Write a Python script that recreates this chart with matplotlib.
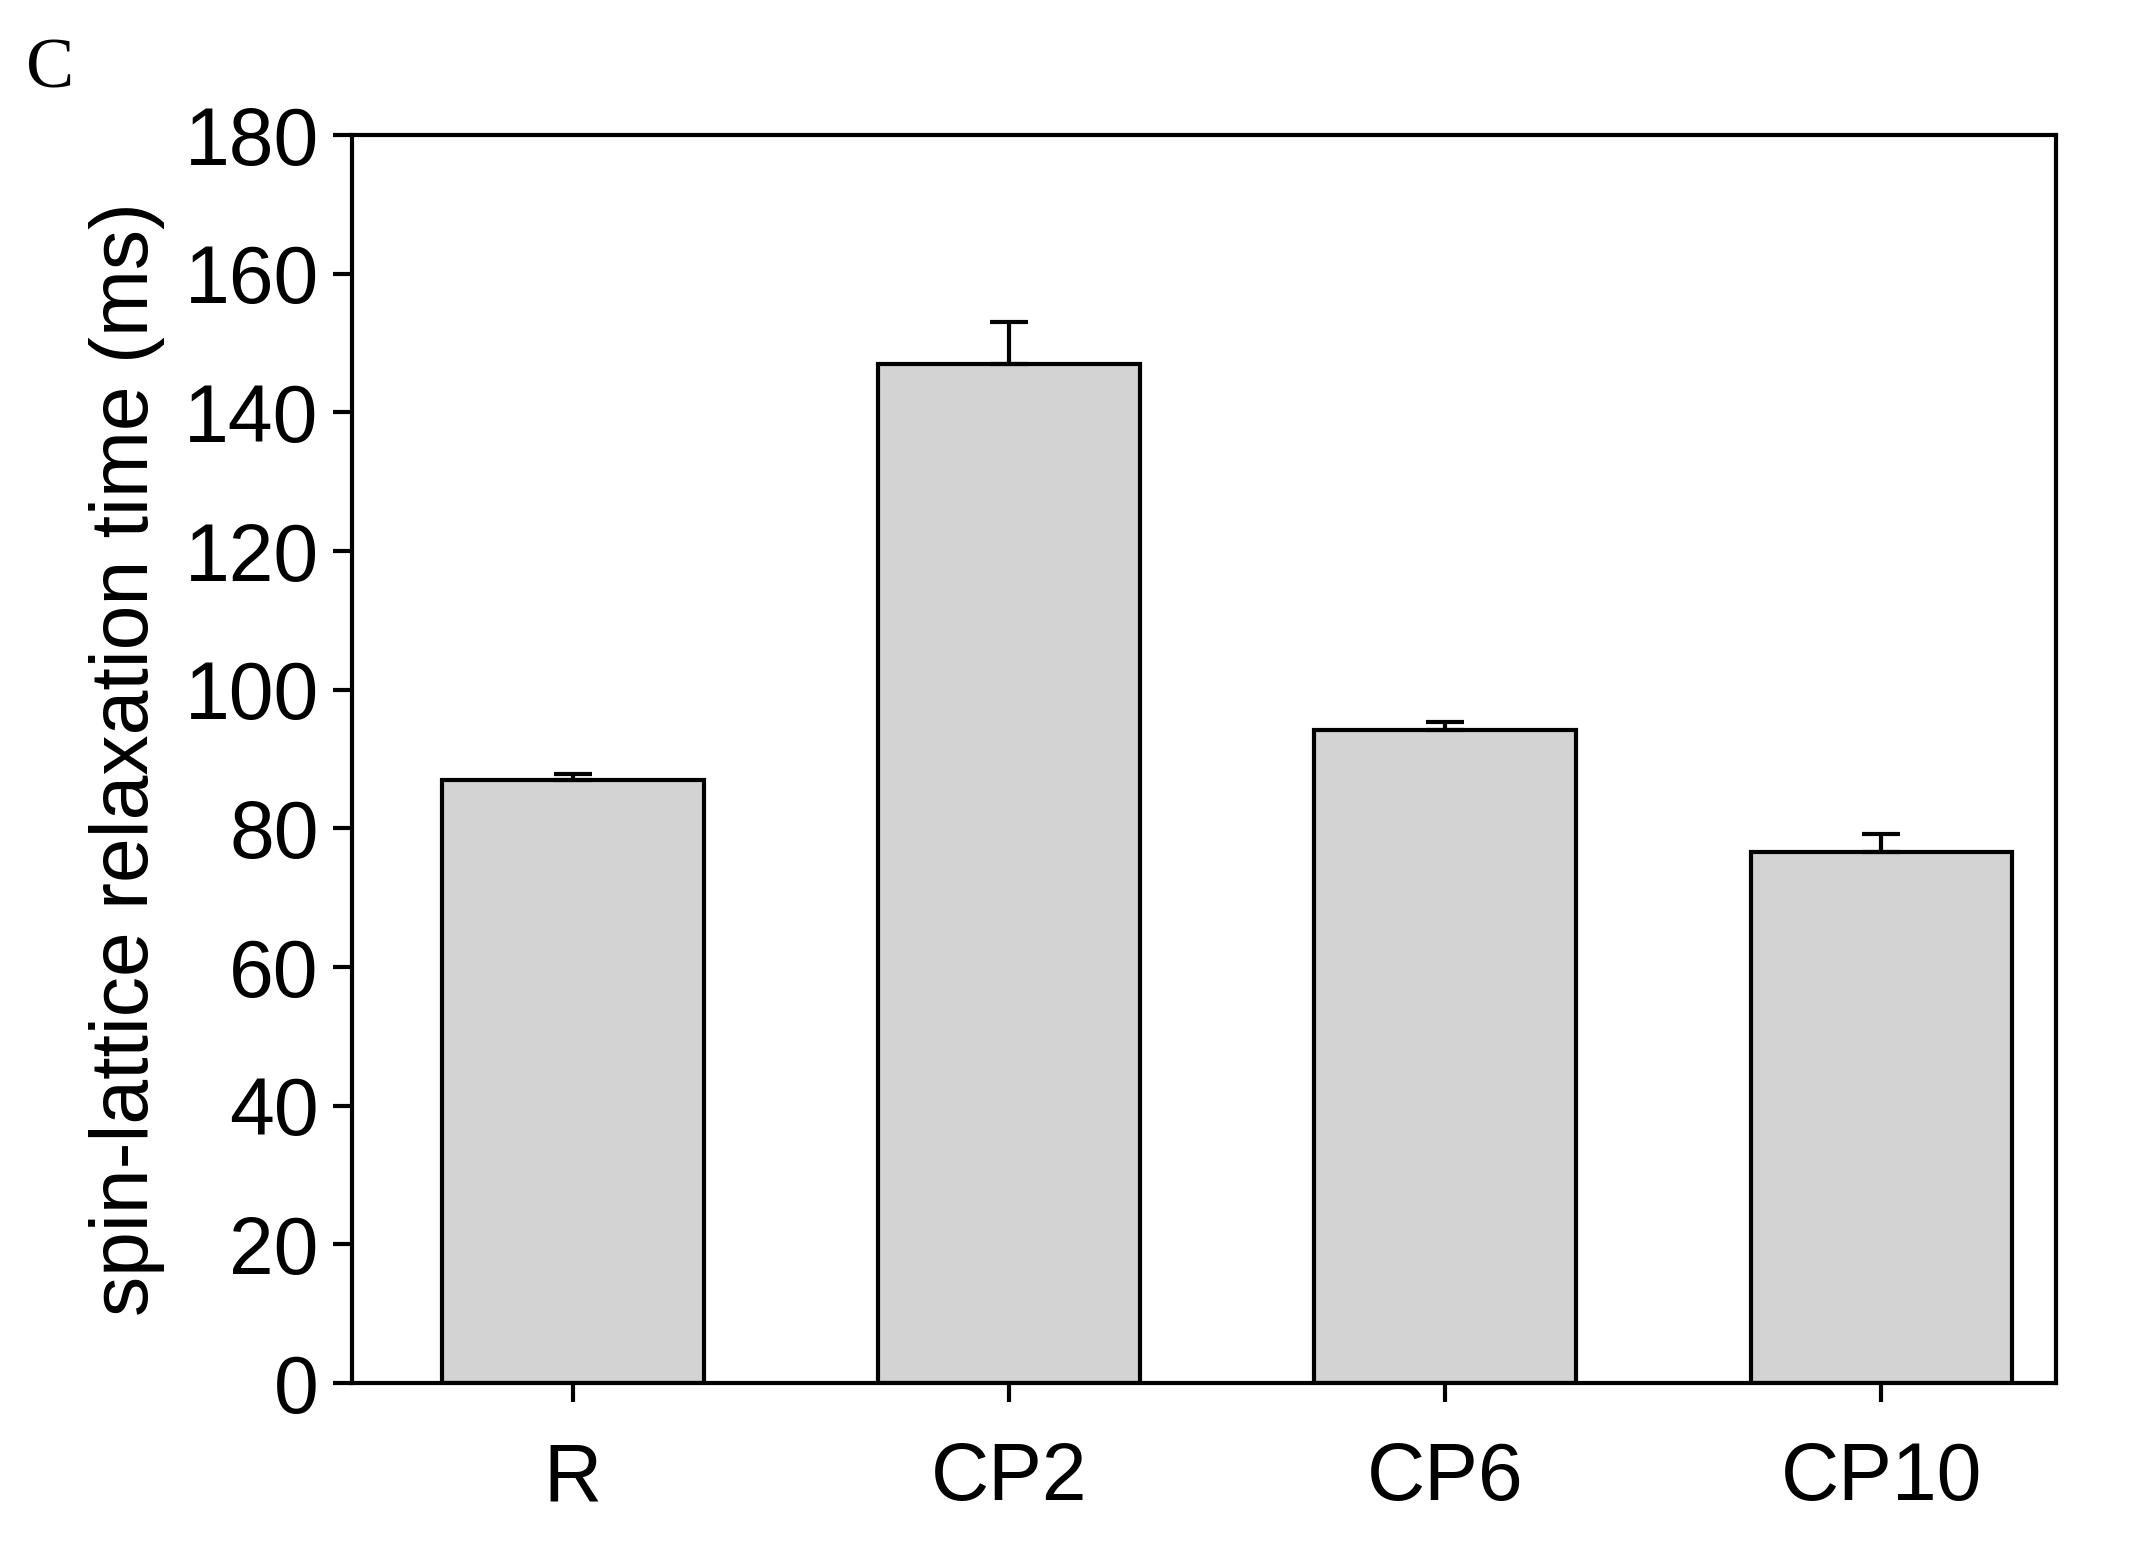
import matplotlib
matplotlib.use("Agg")
import matplotlib.pyplot as plt

categories = ["R", "CP2", "CP6", "CP10"]
values = [87.0, 147.0, 94.2, 76.6]
errors = [0.8, 6.0, 1.1, 2.6]

plt.rcParams['font.family'] = ['Liberation Sans', 'DejaVu Sans']
fig = plt.figure(figsize=(21.38, 15.49), dpi=100)
ax = fig.add_axes([352/2138, 1-1383/1549, (2056-352)/2138, (1383-135)/1549])
x = list(range(len(categories)))
ax.bar(x, values, width=0.6, color="#d3d3d3", edgecolor="black", linewidth=3, zorder=2)
ax.errorbar(x, values, yerr=[[0]*len(errors), errors], fmt="none", ecolor="black",
            elinewidth=3, capsize=14, capthick=3, zorder=3)
ax.set_xlim(-0.506, 3.4)
ax.set_ylim(0, 180)
ax.set_yticks(range(0, 181, 20))
ax.set_xticks(x)
ax.set_xticklabels(categories)
ax.tick_params(axis='both', direction='out', length=14, width=3, labelsize=58)
ax.tick_params(axis='x', pad=28)
ax.tick_params(axis='y', pad=10)
for s in ax.spines.values():
    s.set_linewidth(3)
ax.set_ylabel("spin-lattice relaxation time (ms)", fontsize=58, labelpad=14)
fig.text(26/2138, 1-88/1549, "C", fontsize=52, family=['Liberation Serif', 'DejaVu Serif'])
fig.savefig("out.png", dpi=100)
